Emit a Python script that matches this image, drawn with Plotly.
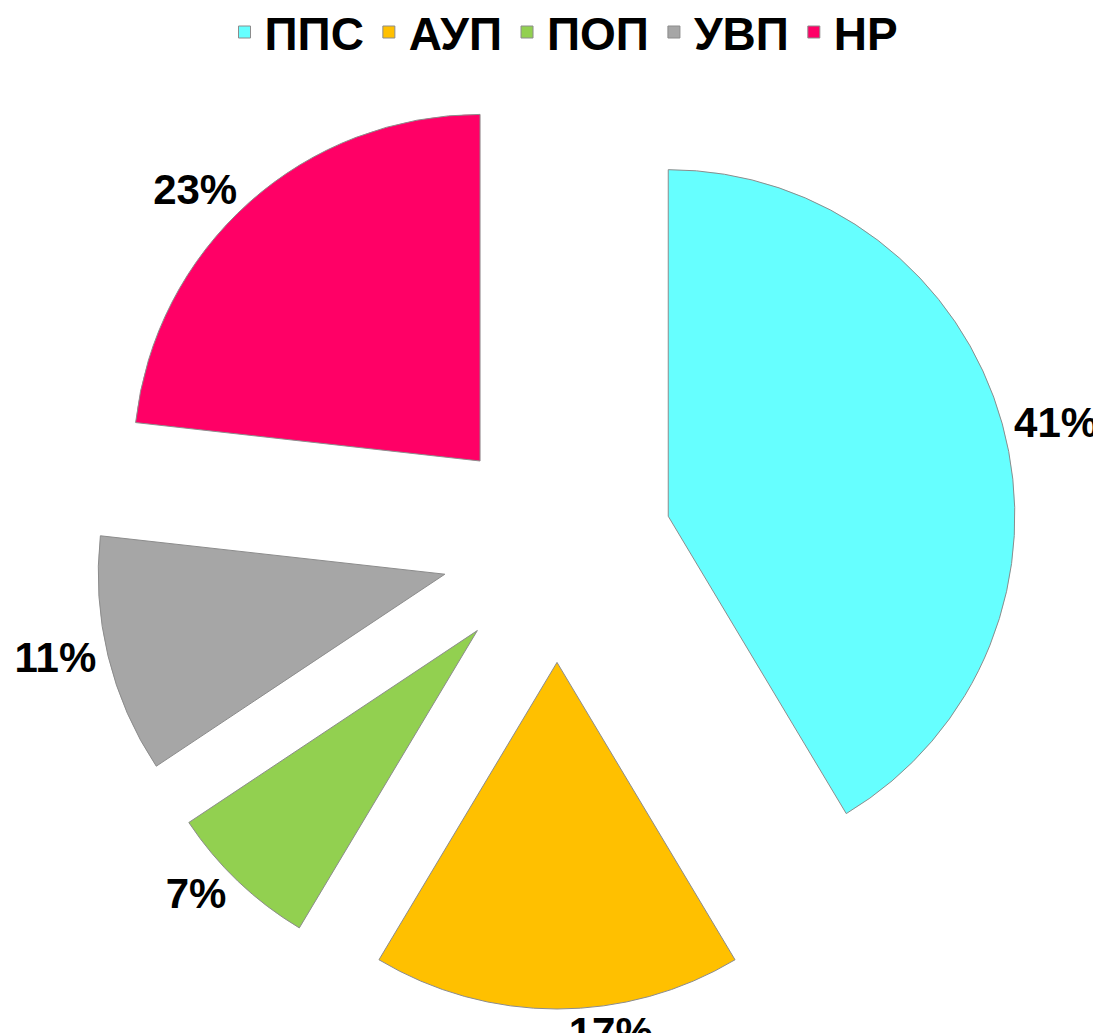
import plotly.graph_objects as go

categories = ["ППС", "АУП", "ПОП", "УВП", "НР"]
values = [41, 17, 7, 11, 23]
value_labels = ["41%", "17%", "7%", "11%", "23%"]
colors = ["#66FFFF", "#FFC000", "#92D050", "#A6A6A6", "#FF0066"]

W, H = 1101, 1033
cx, cy, half = 549, 539, 462

fig = go.Figure(go.Pie(
    labels=categories,
    values=values,
    text=value_labels,
    textinfo="text",
    texttemplate="<b>%{text}</b>",
    textposition="outside",
    sort=False,
    direction="clockwise",
    rotation=0,
    pull=[0.333] * len(values),
    automargin=False,
    marker=dict(colors=colors, line=dict(color="#8C8C8C", width=1)),
    textfont=dict(family="Liberation Sans, Arial, sans-serif", size=42, color="#000000"),
    domain=dict(x=[(cx - half) / W, (cx + half) / W],
                y=[1 - (cy + half) / H, 1 - (cy - half) / H]),
    hoverinfo="label+percent",
))

fig.update_layout(
    width=W, height=H,
    margin=dict(l=0, r=0, t=0, b=0, autoexpand=False),
    paper_bgcolor="white",
    plot_bgcolor="white",
    showlegend=True,
    legend=dict(
        orientation="h",
        x=0.505, xanchor="center",
        y=1.012, yanchor="top",
        font=dict(family="Liberation Sans, Arial, sans-serif", size=46, color="#000000", weight="bold"),
        itemwidth=30,
        traceorder="normal",
    ),
)

fig.write_html("out.html")
